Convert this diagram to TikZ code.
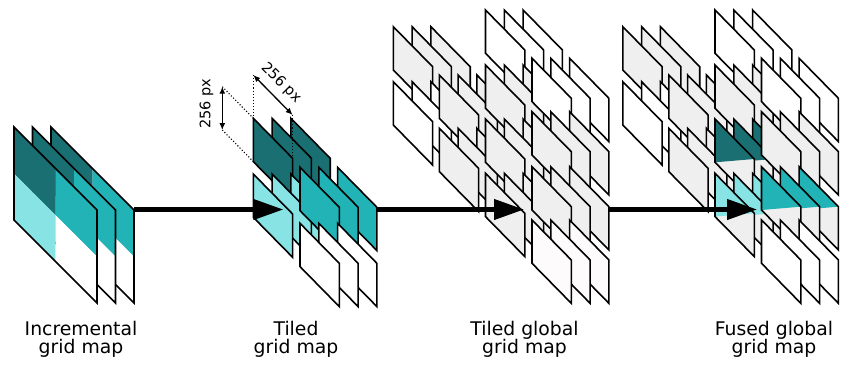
\documentclass[tikz,border=0pt]{standalone}
\usepackage{fontspec}
\setmainfont{DejaVu Sans}
\usetikzlibrary{arrows.meta}
\definecolor{dteal}{HTML}{1A6F73}
\definecolor{mteal}{HTML}{21B3B5}
\definecolor{lcyan}{HTML}{88E4E4}
\definecolor{lgray}{HTML}{EFEFEF}
\definecolor{owhite}{HTML}{FDFBFB}
\tikzset{
  platebox/.style={draw=black, line width=1.6pt, line join=miter},
  flowarrow/.style={line width=4.2pt, -{Triangle[length=30pt,width=20pt]}},
  dimarrow/.style={line width=1.3pt, {Latex[length=7pt,width=6pt]}-{Latex[length=7pt,width=6pt]}},
  guideline/.style={line width=1.1pt, dotted},
  maplabel/.style={font=\fontsize{18.8}{18.7}\selectfont, align=center, anchor=north, inner sep=0pt},
  dimtext/.style={font=\fontsize{14.5}{15}\selectfont, inner sep=0pt}
}
\newcommand{\bigplate}[1]{%
  \fill[dteal] ({#1},127) -- ({#1+41.5},168.5) -- ({#1+41.5},215) -- ({#1},173.5) -- cycle;
  \fill[mteal] ({#1+41.5},168.5) -- ({#1+83},210) -- ({#1+83},256.5) -- ({#1+41.5},215) -- cycle;
  \fill[lcyan] ({#1},173.5) -- ({#1+41.5},215) -- ({#1+41.5},261.5) -- ({#1},220) -- cycle;
  \fill[white] ({#1+41.5},215) -- ({#1+83},256.5) -- ({#1+83},303) -- ({#1+41.5},261.5) -- cycle;
  \draw[platebox] ({#1},127) -- ({#1+83},210) -- ({#1+83},303) -- ({#1},220) -- cycle;}
\newcommand{\tile}[3]{%
  \filldraw[platebox,fill=#3] ({#1},{#2}) -- ++(39.3,40) -- ++(0,43.3) -- ++(-39.3,-40) -- cycle;}
\newcommand{\ftile}[3]{%
  \fill[lgray] ({#1},{#2}) -- ++(39.3,40) -- ++(0,43.3) -- ++(-39.3,-40) -- cycle;
  \fill[#3] ({#1},{#2}) -- ++(39.3,40) -- ({#1},{#2+43.3}) -- cycle;
  \draw[platebox] ({#1},{#2}) -- ++(39.3,40) -- ++(0,43.3) -- ++(-39.3,-40) -- cycle;}
\newcommand{\stk}[3]{\tile{#1+37.6}{#2}{#3}\tile{#1+18.8}{#2}{#3}\tile{#1}{#2}{#3}}
\newcommand{\fstk}[3]{\ftile{#1+37.6}{#2}{#3}\ftile{#1+18.8}{#2}{#3}\ftile{#1}{#2}{#3}}
\begin{document}
\lineskiplimit=-50pt\relax
\begin{tikzpicture}[x=1pt,y=-1pt]
\useasboundingbox (0,0) rectangle (858,364);
% incremental grid map
\bigplate{51}\bigplate{32.5}\bigplate{14}
% tiled grid map
\stk{253.3}{118.3}{dteal}
\stk{253.3}{174}{lcyan}
\stk{300}{167.3}{mteal}
\stk{300}{223.3}{white}
% dimensions
\coordinate (ulTL) at (253.3,118.3);
\coordinate (ulBL) at (253.3,161.6);
\coordinate (ulTR) at (292.6,158.3);
\coordinate (vTop) at (222.3,86.7);
\coordinate (vBot) at (222.3,130);
\coordinate (dA) at (253.3,75);
\coordinate (dB) at (292.6,115);
\draw[guideline] (vTop) -- (ulTL);
\draw[guideline] (vBot) -- (ulBL);
\draw[guideline] (dA) -- (ulTL);
\draw[guideline] (dB) -- (ulTR);
\draw[dimarrow] (vTop) -- (vBot);
\draw[dimarrow] (dA) -- (dB);
\node[dimtext, rotate=90] (t1) at (206.5,103.5) {256 px};
\node[dimtext, rotate=-45] (t2) at (281,83) {256 px};
% tiled global grid map
\stk{393.3}{26.7}{lgray}
\stk{393.3}{81.7}{white}
\stk{439.3}{75}{lgray}
\stk{439.3}{128.3}{lgray}
\stk{485.5}{10}{white}
\stk{485.5}{65}{lgray}
\stk{485.5}{119}{lgray}
\stk{485.5}{173.3}{lgray}
\stk{532}{58.3}{white}
\stk{532}{111.7}{lgray}
\stk{532}{166.7}{lgray}
\stk{532}{220}{owhite}
% fused global grid map
\begin{scope}[xshift=229.5pt]
\stk{393.3}{26.7}{lgray}
\stk{393.3}{81.7}{white}
\stk{439.3}{75}{lgray}
\stk{439.3}{128.3}{lgray}
\stk{485.5}{10}{white}
\stk{485.5}{65}{lgray}
\fstk{485.5}{119}{dteal}
\fstk{485.5}{173.3}{lcyan}
\stk{532}{58.3}{white}
\stk{532}{111.7}{lgray}
\fstk{532}{166.7}{mteal}
\stk{532}{220}{white}
\end{scope}
% arrows
\coordinate (a1s) at (134,209.5);
\coordinate (a1e) at (283.3,209.5);
\coordinate (a2s) at (376,209.5);
\coordinate (a2e) at (524,209.5);
\coordinate (a3s) at (609.3,209.5);
\coordinate (a3e) at (757,209.5);
\draw[flowarrow] (a1s) -- (a1e);
\draw[flowarrow] (a2s) -- (a2e);
\draw[flowarrow] (a3s) -- (a3e);
% labels
\node[maplabel] (l1) at (81,320.7) {Incremental\\grid map};
\node[maplabel] (l2) at (296,320.7) {Tiled\\grid map};
\node[maplabel] (l3) at (524.5,320.7) {Tiled global\\grid map};
\node[maplabel] (l4) at (774,320.7) {Fused global\\grid map};
\end{tikzpicture}
\end{document}
